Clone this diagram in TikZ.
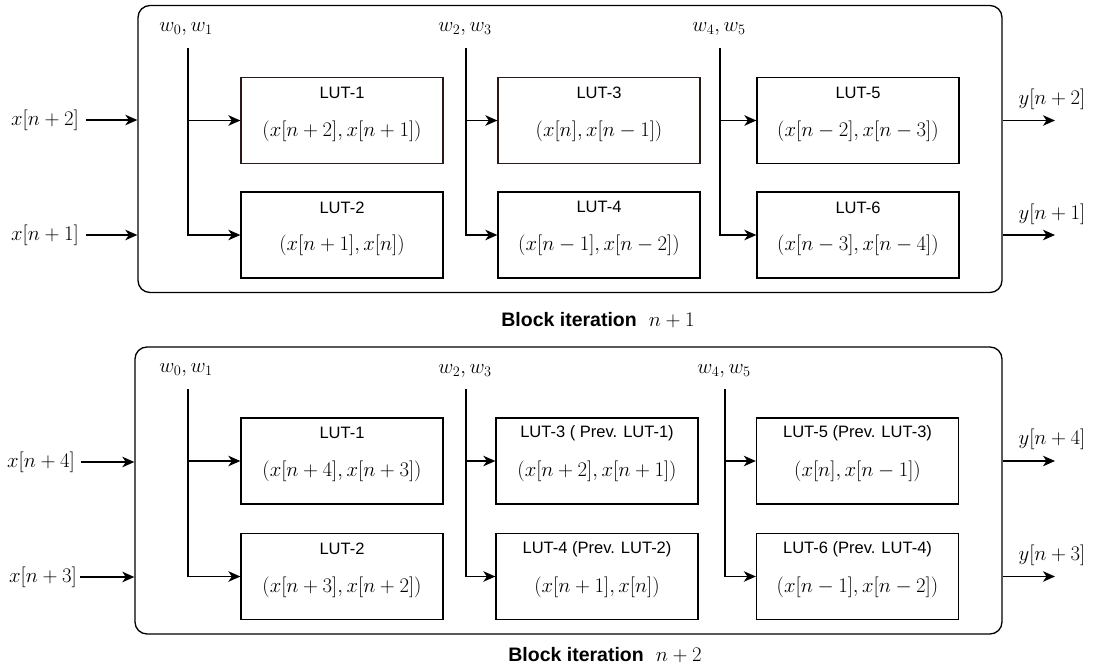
\documentclass[tikz,border=0pt]{standalone}
\usepackage[no-math]{fontspec}
\setmainfont{Liberation Sans}
\usetikzlibrary{arrows.meta}
\definecolor{edgebrown}{RGB}{45,22,22}
\begin{document}
\begin{tikzpicture}[x=1pt,y=-1pt,
  outerbox/.style={draw, line width=1.3pt, rounded corners=12pt, minimum width=#1, minimum height=287pt, inner sep=0pt},
  lut/.style={draw, line width=1.3pt, minimum width=202pt, minimum height=86pt, inner sep=0pt},
  ttl/.style={inner sep=0pt, font=\fontsize{16.5}{19}\selectfont},
  mth/.style={inner sep=0pt, font=\fontsize{19.5}{22}\selectfont},
  blocktitle/.style={inner sep=0pt, font=\fontsize{19.5}{22}\selectfont\bfseries},
  arr/.style={line width=1.4pt, -{Stealth[length=12pt,width=10.5pt,inset=3.5pt]}}
]
\useasboundingbox (0,0) rectangle (1093,669);

% ---------------- Block iteration n+1 ----------------
\node[outerbox=864pt] (B1) at (570,149) {};

\node[mth] (wa1) at (186,29) {$w_0,w_1$};
\node[mth] (wb1) at (465,29) {$w_2,w_3$};
\node[mth] (wc1) at (719,29) {$w_4,w_5$};
\coordinate (ta1) at (188,48);
\coordinate (tb1) at (466,48);
\coordinate (tc1) at (720,48);

\node[lut, draw=edgebrown] (A1) at (342,120.5) {};
\node[lut] (A2) at (342,235) {};
\node[lut, draw=edgebrown] (A3) at (599,120.5) {};
\node[lut] (A4) at (599,235) {};
\node[lut] (A5) at (858,120.5) {};
\node[lut] (A6) at (858,235) {};

\node[ttl] (A1t) at ([yshift=-16pt]A1.north) {LUT-1};
\node[mth] (A1m) at ([yshift=-54pt]A1.north) {$(x[n+2],x[n+1])$};
\node[ttl] (A2t) at ([yshift=-16pt]A2.north) {LUT-2};
\node[mth] (A2m) at ([yshift=-54pt]A2.north) {$(x[n+1],x[n])$};
\node[ttl] (A3t) at ([yshift=-16pt]A3.north) {LUT-3};
\node[mth] (A3m) at ([yshift=-54pt]A3.north) {$(x[n],x[n-1])$};
\node[ttl] (A4t) at ([yshift=-16pt]A4.north) {LUT-4};
\node[mth] (A4m) at ([yshift=-54pt]A4.north) {$(x[n-1],x[n-2])$};
\node[ttl] (A5t) at ([yshift=-16pt]A5.north) {LUT-5};
\node[mth] (A5m) at ([yshift=-54pt]A5.north) {$(x[n-2],x[n-3])$};
\node[ttl] (A6t) at ([yshift=-16pt]A6.north) {LUT-6};
\node[mth] (A6m) at ([yshift=-54pt]A6.north) {$(x[n-3],x[n-4])$};

% weight buses
\draw[arr] (ta1) |- (A2.west);
\draw[arr] (ta1 |- A1.west) -- (A1.west);
\draw[arr] (tb1) |- (A4.west);
\draw[arr] (tb1 |- A3.west) -- (A3.west);
\draw[arr] (tc1) |- (A6.west);
\draw[arr] (tc1 |- A5.west) -- (A5.west);

% inputs
\node[mth, anchor=east] (xa1) at (79,120) {$x[n+2]$};
\node[mth, anchor=east] (xa2) at (79,235) {$x[n+1]$};
\draw[arr] ([xshift=7pt]xa1.east) -- (xa1.east -| B1.west);
\draw[arr] ([xshift=7pt]xa2.east) -- (xa2.east -| B1.west);

% outputs
\coordinate (ya1) at (1055,120.5);
\coordinate (ya2) at (1055,235);
\draw[arr] (ya1 -| B1.east) -- (ya1);
\draw[arr] (ya2 -| B1.east) -- (ya2);
\node[mth] (yl1) at (1052,99) {$y[n+2]$};
\node[mth] (yl2) at (1052,214) {$y[n+1]$};

\node[blocktitle] (c1) at (598,320) {Block iteration\hspace{12pt}\normalfont$n+1$};

% ---------------- Block iteration n+2 ----------------
\node[outerbox=867pt] (B2) at (568.5,490.5) {};

\node[mth] (wa2) at (186,370) {$w_0,w_1$};
\node[mth] (wb2) at (465,371) {$w_2,w_3$};
\node[mth] (wc2) at (724,371) {$w_4,w_5$};
\coordinate (ta2) at (188,389);
\coordinate (tb2) at (466,389);
\coordinate (tc2) at (725,389);

\node[lut] (C1) at (342,461) {};
\node[lut] (C2) at (342,576.5) {};
\node[lut] (C3) at (597,461) {};
\node[lut] (C4) at (597,576.5) {};
\node[lut] (C5) at (857.5,461) {};
\node[lut] (C6) at (857.5,576.5) {};

\node[ttl] (C1t) at ([yshift=-16pt]C1.north) {LUT-1};
\node[mth] (C1m) at ([yshift=-54pt]C1.north) {$(x[n+4],x[n+3])$};
\node[ttl] (C2t) at ([yshift=-16pt]C2.north) {LUT-2};
\node[mth] (C2m) at ([yshift=-54pt]C2.north) {$(x[n+3],x[n+2])$};
\node[ttl] (C3t) at ([yshift=-16pt]C3.north) {LUT-3 ( Prev. LUT-1)};
\node[mth] (C3m) at ([yshift=-54pt]C3.north) {$(x[n+2],x[n+1])$};
\node[ttl] (C4t) at ([yshift=-16pt]C4.north) {LUT-4 (Prev. LUT-2)};
\node[mth] (C4m) at ([yshift=-54pt]C4.north) {$(x[n+1],x[n])$};
\node[ttl] (C5t) at ([yshift=-16pt]C5.north) {LUT-5 (Prev. LUT-3)};
\node[mth] (C5m) at ([yshift=-54pt]C5.north) {$(x[n],x[n-1])$};
\node[ttl] (C6t) at ([yshift=-16pt]C6.north) {LUT-6 (Prev. LUT-4)};
\node[mth] (C6m) at ([yshift=-54pt]C6.north) {$(x[n-1],x[n-2])$};

\draw[arr] (ta2) |- (C2.west);
\draw[arr] (ta2 |- C1.west) -- (C1.west);
\draw[arr] (tb2) |- (C4.west);
\draw[arr] (tb2 |- C3.west) -- (C3.west);
\draw[arr] (tc2) |- (C6.west);
\draw[arr] (tc2 |- C5.west) -- (C5.west);

\node[mth, anchor=east] (xc1) at (75,462) {$x[n+4]$};
\node[mth, anchor=east] (xc2) at (77,577) {$x[n+3]$};
\draw[arr] ([xshift=6pt]xc1.east) -- (xc1.east -| B2.west);
\draw[arr] ([xshift=3pt]xc2.east) -- (xc2.east -| B2.west);

\coordinate (yc1) at (1055,461);
\coordinate (yc2) at (1055,576.5);
\draw[arr] (yc1 -| B2.east) -- (yc1);
\draw[arr] (yc2 -| B2.east) -- (yc2);
\node[mth] (yl3) at (1052,439) {$y[n+4]$};
\node[mth] (yl4) at (1052,555) {$y[n+3]$};

\node[blocktitle] (c2) at (605,655) {Block iteration\hspace{12pt}\normalfont$n+2$};
\end{tikzpicture}
\end{document}
